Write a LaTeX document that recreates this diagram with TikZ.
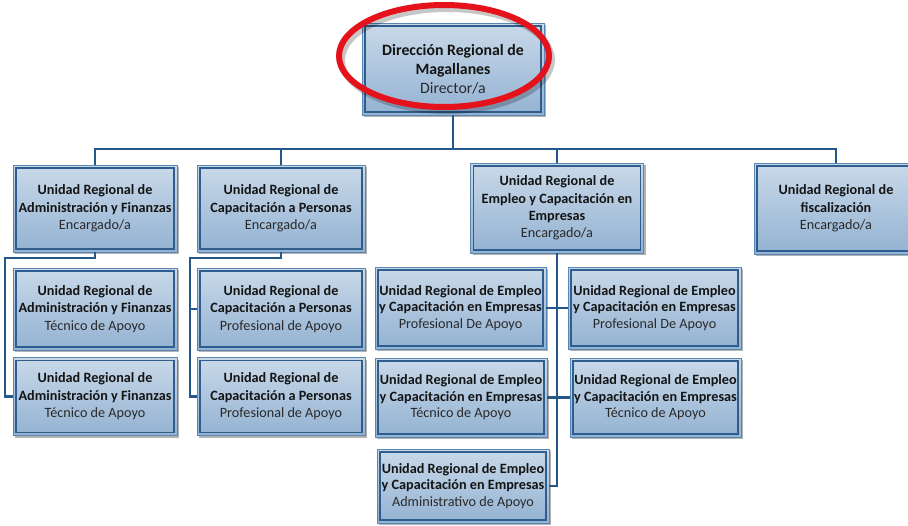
\documentclass[tikz,border=0pt]{standalone}
\usepackage{fontspec}
\setmainfont{Carlito}
\usetikzlibrary{shadows}
\definecolor{lineblue}{HTML}{24578A}
\definecolor{outerblue}{HTML}{5A86B4}
\definecolor{innerblue}{HTML}{2F5E8E}
\definecolor{filltop}{HTML}{C9D9E9}
\definecolor{fillbot}{HTML}{93B2D2}
\definecolor{txt}{HTML}{141414}
\definecolor{roletxt}{HTML}{2A2A2A}
\definecolor{ovalred}{HTML}{E5121B}
\newcommand{\rl}[1]{{\mdseries\color{roletxt}#1}}
\begin{document}
\begin{tikzpicture}[x=1pt,y=-1pt,
 unitbox/.style={rectangle, draw=outerblue, line width=0.9pt, top color=filltop, bottom color=fillbot,
   align=center, inner sep=0pt, text=txt, font=\bfseries\fontsize{14.2}{17.4}\selectfont,
   drop shadow={shadow xshift=2pt, shadow yshift=-2pt, fill=black, opacity=0.3},
   path picture={\draw[innerblue, line width=1.1pt] ([shift={(3pt,-3pt)}]path picture bounding box.north west) rectangle ([shift={(-3pt,3pt)}]path picture bounding box.south east);}},
 smallbox/.style={unitbox, font=\bfseries\fontsize{14.2}{16.5}\selectfont},
 conn/.style={draw=lineblue, line width=2.2pt}]
\useasboundingbox (0,0) rectangle (908,525);

% boxes
\node[unitbox, minimum width=182pt, minimum height=92pt, font=\bfseries\fontsize{15.8}{19}\selectfont] (dir) at (453,69)
  {Dirección Regional de\\Magallanes\\\rl{Director/a}};

\node[unitbox, minimum width=164pt, minimum height=87pt] (A) at (95,208.5)
  {Unidad Regional de\\Administración y Finanzas\\\rl{Encargado/a}};
\node[unitbox, minimum width=168pt, minimum height=87pt] (B) at (281,208.5)
  {Unidad Regional de\\Capacitación a Personas\\\rl{Encargado/a}};
\node[unitbox, minimum width=173pt, minimum height=90pt] (C) at (557,208)
  {Unidad Regional de\\Empleo y Capacitación en\\Empresas\\\rl{Encargado/a}};
\node[unitbox, minimum width=164pt, minimum height=91pt] (D) at (836,208.5)
  {Unidad Regional de\\fiscalización\\\rl{Encargado/a}};

\node[unitbox, minimum width=164pt, minimum height=82pt] (A2) at (95,309)
  {Unidad Regional de\\Administración y Finanzas\\\rl{Técnico de Apoyo}};
\node[unitbox, minimum width=164pt, minimum height=78pt] (A3) at (95,396.5)
  {Unidad Regional de\\Administración y Finanzas\\\rl{Técnico de Apoyo}};
\node[unitbox, minimum width=168pt, minimum height=82pt] (B2) at (281,309)
  {Unidad Regional de\\Capacitación a Personas\\\rl{Profesional de Apoyo}};
\node[unitbox, minimum width=168pt, minimum height=78pt] (B3) at (281,396.5)
  {Unidad Regional de\\Capacitación a Personas\\\rl{Profesional de Apoyo}};

\node[smallbox, minimum width=171pt, minimum height=82pt] (CL1) at (460.5,308)
  {Unidad Regional de Empleo\\y Capacitación en Empresas\\\rl{Profesional De Apoyo}};
\node[smallbox, minimum width=173pt, minimum height=82pt] (CR1) at (654.5,308)
  {Unidad Regional de Empleo\\y Capacitación en Empresas\\\rl{Profesional De Apoyo}};
\node[smallbox, minimum width=172pt, minimum height=79pt] (CL2) at (461,397.5)
  {Unidad Regional de Empleo\\y Capacitación en Empresas\\\rl{Técnico de Apoyo}};
\node[smallbox, minimum width=171pt, minimum height=79pt] (CR2) at (655.5,397.5)
  {Unidad Regional de Empleo\\y Capacitación en Empresas\\\rl{Técnico de Apoyo}};
\node[smallbox, minimum width=172pt, minimum height=74pt] (CL3) at (463,486)
  {Unidad Regional de Empleo\\y Capacitación en Empresas\\\rl{Administrativo de Apoyo}};

% connectors
\coordinate (bar) at (453,149);
\coordinate (aL) at (5,258);
\coordinate (bL) at (190,258);
\draw[conn] (dir.south) -- (bar);
\draw[conn] (A.north) |- (D.north |- bar) -- (D.north);
\draw[conn] (B.north) -- (B.north |- bar);
\draw[conn] (C.north) -- (C.north |- bar);
\draw[conn] (A.south) |- (aL) |- (A3.west);
\draw[conn] (B.south) |- (bL) |- (B3.west);
\draw[conn] (bL |- B2.west) -- (B2.west);
\draw[conn] (C.south) |- (CL3.east);
\draw[conn] (CL1.east) -- (CR1.west);
\draw[conn] (CL2.east) -- (CR2.west);

% red highlight
\draw[black, opacity=0.22, line width=6pt] (447,60) ellipse (105pt and 51pt);
\draw[ovalred, line width=6pt] (444,56) ellipse (105pt and 51pt);
\end{tikzpicture}
\end{document}
